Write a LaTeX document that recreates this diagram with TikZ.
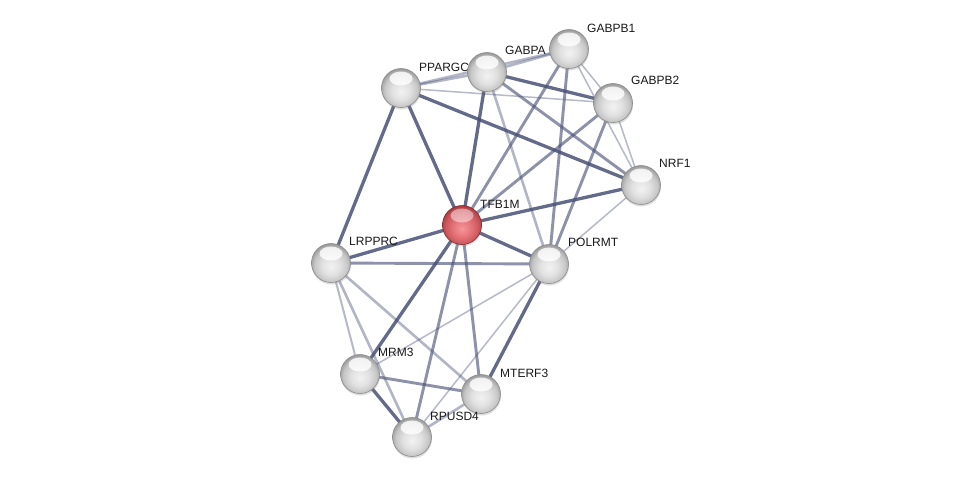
\documentclass[tikz,border=0pt]{standalone}
\usepackage{fontspec}
\setmainfont{Liberation Sans}
\usetikzlibrary{shadows,calc}
\pgfdeclarelayer{bg}
\pgfdeclarelayer{edges}
\pgfsetlayers{bg,edges,main}
\definecolor{edgec}{RGB}{72,80,118}
\definecolor{rA}{RGB}{245,150,155}
\definecolor{rB}{RGB}{228,115,120}
\definecolor{rC}{RGB}{205,88,94}
\definecolor{rD}{RGB}{165,55,62}
\pgfdeclareradialshading{sphereW}{\pgfpoint{0bp}{-5bp}}{color(0bp)=(black!5); color(12bp)=(black!12); color(21bp)=(black!22); color(28bp)=(black!42); color(50bp)=(black!42)}
\pgfdeclareradialshading{sphereR}{\pgfpoint{0bp}{-5bp}}{color(0bp)=(rA); color(12bp)=(rB); color(21bp)=(rC); color(28bp)=(rD); color(50bp)=(rD)}
\begin{document}
\begin{tikzpicture}[x=1pt,y=-1pt,
  gnode/.style={circle, minimum size=39pt, inner sep=0pt, draw=black!45, line width=0.6pt,
    shading=sphereW,
    drop shadow={shadow xshift=0.5pt, shadow yshift=-2pt, opacity=0.25},
    path picture={\fill[white, opacity=0.8] ($(path picture bounding box.center)+(0,-9.5)$) ellipse (11.5 and 7);}},
  rnode/.style={gnode, draw={rgb,255:red,130;green,40;blue,45}, shading=sphereR,
    path picture={\fill[white, opacity=0.45] ($(path picture bounding box.center)+(0,-9.5)$) ellipse (11.5 and 7);}},
  lbl/.style={anchor=west, font=\fontsize{12}{14}\selectfont, inner sep=1pt, text=black!90},
  ea/.style={draw=edgec, line width=3.3pt, draw opacity=0.85},
  eb/.style={draw=edgec, line width=2.9pt, draw opacity=0.62},
  ec/.style={draw=edgec, line width=2.6pt, draw opacity=0.42},
  ed/.style={draw=edgec, line width=1.5pt, draw opacity=0.4}]
\useasboundingbox (0,0) rectangle (976,483);
\begin{pgfonlayer}{bg}
\fill[white] (0,0) rectangle (976,483);
\end{pgfonlayer}

% nodes and labels (label drawn after its own node)
\node[gnode] (PPARGC) at (401,88) {};
\node[lbl] (lPPARGC) at ($(PPARGC)+(17,-21)$) {PPARGC};
\node[gnode] (GABPA) at (487,72) {};
\node[lbl] (lGABPA) at ($(GABPA)+(17,-22)$) {GABPA};
\node[gnode] (GABPB1) at (569,49) {};
\node[lbl] (lGABPB1) at ($(GABPB1)+(17,-21)$) {GABPB1};
\node[gnode] (GABPB2) at (613,103) {};
\node[lbl] (lGABPB2) at ($(GABPB2)+(17,-23)$) {GABPB2};
\node[gnode] (NRF1) at (641,185) {};
\node[lbl] (lNRF1) at ($(NRF1)+(17,-22)$) {NRF1};
\node[rnode] (TFB1M) at (462,225) {};
\node[lbl] (lTFB1M) at ($(TFB1M)+(17,-21)$) {TFB1M};
\node[gnode] (LRPPRC) at (331,263) {};
\node[lbl] (lLRPPRC) at ($(LRPPRC)+(17,-22)$) {LRPPRC};
\node[gnode] (POLRMT) at (549,264) {};
\node[lbl] (lPOLRMT) at ($(POLRMT)+(18,-22)$) {POLRMT};
\node[gnode] (MRM3) at (360,374) {};
\node[lbl] (lMRM3) at ($(MRM3)+(17,-22)$) {MRM3};
\node[gnode] (MTERF3) at (481,394) {};
\node[lbl] (lMTERF3) at ($(MTERF3)+(18,-21)$) {MTERF3};
\node[gnode] (RPUSD4) at (412,437) {};
\node[lbl] (lRPUSD4) at ($(RPUSD4)+(17,-21)$) {RPUSD4};

\begin{pgfonlayer}{edges}
% strong
\draw[ea] (PPARGC.center) -- (NRF1.center);
\draw[ea] (PPARGC.center) -- (TFB1M.center);
\draw[ea] (PPARGC.center) -- (LRPPRC.center);
\draw[ea] (GABPA.center) -- (TFB1M.center);
\draw[ea] (GABPA.center) -- (GABPB2.center);
\draw[ea] (NRF1.center) -- (TFB1M.center);
\draw[ea] (TFB1M.center) -- (POLRMT.center);
\draw[ea] (TFB1M.center) -- (MRM3.center);
\draw[ea] (POLRMT.center) -- (MTERF3.center);
\draw[ea] (MRM3.center) -- (RPUSD4.center);
\draw[ea] (LRPPRC.center) -- (TFB1M.center);
% medium
\draw[eb] (GABPA.center) -- (NRF1.center);
\draw[eb] (GABPB1.center) -- (TFB1M.center);
\draw[eb] (GABPB1.center) -- (POLRMT.center);
\draw[eb] (GABPB2.center) -- (TFB1M.center);
\draw[eb] (GABPB2.center) -- (POLRMT.center);
\draw[eb] (LRPPRC.center) -- (POLRMT.center);
\draw[eb] (TFB1M.center) -- (RPUSD4.center);
\draw[eb] (TFB1M.center) -- (MTERF3.center);
\draw[eb] (MRM3.center) -- (MTERF3.center);
% lighter
\draw[ec] (GABPA.center) -- (POLRMT.center);
\draw[ec] (LRPPRC.center) -- (MTERF3.center);
\draw[ec] (LRPPRC.center) -- (RPUSD4.center);
\draw[ec] (GABPA.center) -- (GABPB1.center);
\draw[ec] (PPARGC.center) -- (GABPA.center);
\draw[ec] (PPARGC.center) -- (GABPB1.center);
\draw[ec] (MTERF3.center) -- (RPUSD4.center);
% thin
\draw[ed] (PPARGC.center) -- (GABPB2.center);
\draw[ed] (GABPB1.center) -- (GABPB2.center);
\draw[ed] (GABPB1.center) -- (NRF1.center);
\draw[ed] (GABPB2.center) -- (NRF1.center);
\draw[ed] (NRF1.center) -- (POLRMT.center);
\draw[ed, line width=2pt] (LRPPRC.center) -- (MRM3.center);
\draw[ed] (POLRMT.center) -- (MRM3.center);
\draw[ed] (POLRMT.center) -- (RPUSD4.center);
\end{pgfonlayer}
\end{tikzpicture}
\end{document}
